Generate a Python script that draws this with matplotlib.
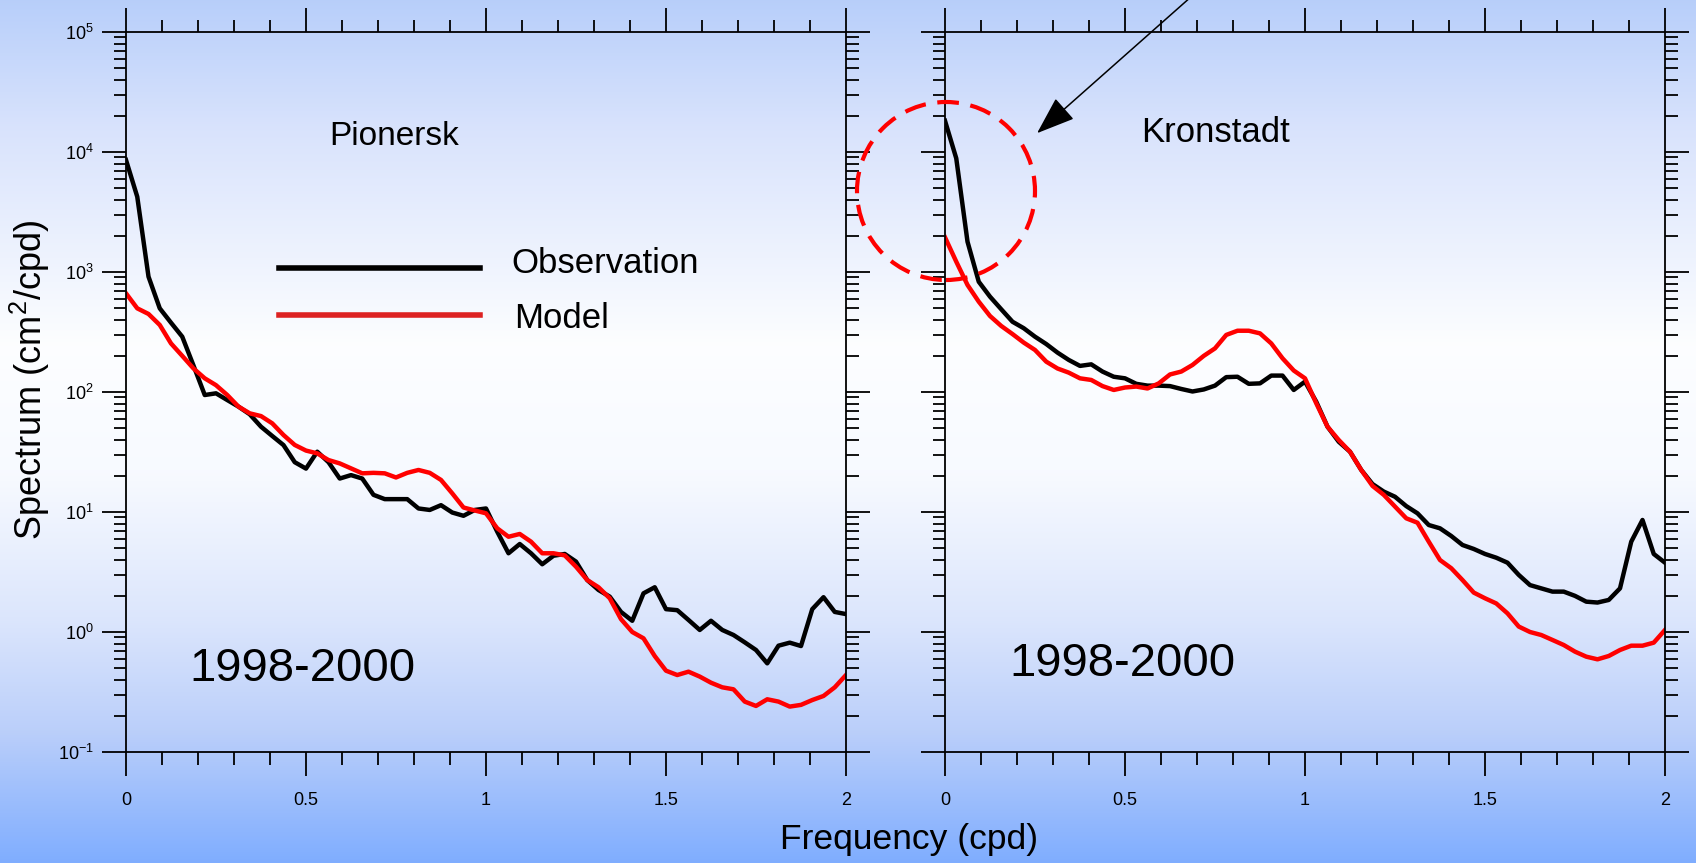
import numpy as np
import matplotlib
matplotlib.use("Agg")
import matplotlib.pyplot as plt
from matplotlib.ticker import LogLocator, MultipleLocator, FuncFormatter, NullFormatter
from matplotlib.patches import Ellipse

plt.rcParams['font.family'] = ['Liberation Sans', 'DejaVu Sans']
plt.rcParams['mathtext.default'] = 'regular'
plt.rcParams['axes.unicode_minus'] = False

# frequency grid (cpd), 1/32 cpd resolution
freq = np.linspace(0, 2, 65)

# Pionersk spectra (cm^2/cpd)
pion_obs = [8580, 4240, 915, 498, 378, 289, 166, 94.4, 97.5, 85.7,
            75.5, 65.2, 51.4, 43, 36.1, 26, 23, 31.8, 26, 19,
            20.3, 19, 13.9, 12.8, 12.8, 12.8, 10.7, 10.4, 11.4, 9.9,
            9.3, 10.4, 10.7, 6.85, 4.53, 5.41, 4.53, 3.67, 4.32, 4.47,
            3.86, 2.71, 2.24, 1.97, 1.47, 1.24, 2.1, 2.36, 1.55, 1.52,
            1.26, 1.04, 1.24, 1.04, 0.944, 0.82, 0.708, 0.548, 0.769, 0.815,
            0.764, 1.55, 1.95, 1.47, 1.41]
pion_mod = [664, 498, 447, 362, 254, 200, 157, 130, 114, 94.4,
            75.5, 66.4, 63, 54.8, 43.8, 36.2, 32.5, 30.8, 27.1, 25.4,
            23.1, 21, 21.2, 21, 19.4, 21.2, 22.4, 21.2, 18.5, 14.3,
            10.9, 10.3, 9.75, 7.31, 6.22, 6.56, 5.66, 4.53, 4.53, 4.35,
            3.5, 2.71, 2.36, 1.91, 1.28, 1.0, 0.886, 0.63, 0.476, 0.438,
            0.467, 0.425, 0.378, 0.346, 0.333, 0.263, 0.242, 0.275, 0.263, 0.239,
            0.247, 0.271, 0.293, 0.346, 0.438]

# Kronstadt spectra (cm^2/cpd)
kron_obs = [18200, 8860, 1790, 830, 623, 489, 385, 340, 289, 251,
            213, 185, 165, 170, 148, 134, 130, 117, 113, 113,
            112, 106, 101, 105, 113, 133, 134, 117, 118, 137,
            137, 104, 122, 83, 51.4, 38.5, 31.8, 22.4, 17.1, 14.8,
            13.4, 11.2, 9.75, 7.79, 7.31, 6.31, 5.31, 4.92, 4.47, 4.16,
            3.78, 2.99, 2.46, 2.31, 2.17, 2.17, 2.0, 1.79, 1.76, 1.85,
            2.31, 5.66, 8.58, 4.47, 3.78]
kron_mod = [1945, 1220, 780, 566, 430, 355, 304, 258, 224, 179,
            157, 145, 130, 126, 112, 104, 109, 111, 107, 118,
            140, 148, 168, 200, 231, 299, 324, 324, 308, 254,
            191, 151, 130, 80.5, 51.4, 39.8, 31.8, 22.4, 16.5, 13.9,
            11.1, 8.86, 8.14, 5.66, 3.98, 3.4, 2.71, 2.13, 1.91, 1.73,
            1.43, 1.11, 1.0, 0.944, 0.858, 0.779, 0.686, 0.623, 0.592, 0.631,
            0.708, 0.769, 0.769, 0.815, 1.04]

W, H = 1696, 863
fig = plt.figure(figsize=(W / 100, H / 100), dpi=100)

# background: vertical blue-white-blue gradient
bg = fig.add_axes([0, 0, 1, 1], zorder=-10)
stops = [0.0, 0.15, 0.40, 0.55, 0.72, 0.85, 1.0]
cols = np.array([(0.72, 0.81, 0.98), (0.85, 0.89, 0.99), (0.99, 0.995, 1.0),
                 (0.97, 0.98, 1.0), (0.86, 0.90, 0.99), (0.73, 0.81, 0.98),
                 (0.50, 0.68, 1.0)])
yy = np.linspace(0, 1, 400)
grad = np.stack([np.interp(yy, stops, cols[:, c]) for c in range(3)], axis=1)
bg.imshow(grad[:, None, :], aspect='auto', extent=[0, 1, 0, 1])
bg.axis('off')


def px(x, y):
    # pixel (from top-left) -> figure fraction
    return x / W, 1 - y / H


def style_axes(ax, left_labels):
    ax.set_facecolor('none')
    ax.set_yscale('log')
    ax.set_xlim(0, 2)
    ax.set_ylim(0.1, 1e5)
    ax.xaxis.set_major_locator(MultipleLocator(0.5))
    ax.xaxis.set_minor_locator(MultipleLocator(0.1))
    ax.xaxis.set_major_formatter(FuncFormatter(lambda v, p: '%g' % v))
    ax.yaxis.set_major_locator(LogLocator(base=10, numticks=10))
    ax.yaxis.set_minor_locator(LogLocator(base=10, subs=np.arange(2, 10), numticks=20))
    ax.yaxis.set_major_formatter(FuncFormatter(lambda v, p: '$10^{%d}$' % round(np.log10(v))))
    ax.yaxis.set_minor_formatter(NullFormatter())
    ax.tick_params(which='both', direction='out', top=True, right=True,
                   labeltop=False, labelright=False, labelleft=left_labels, width=1.3)
    ax.tick_params(which='major', length=17)
    ax.tick_params(which='minor', length=9)
    ax.tick_params(axis='x', which='major', pad=12, labelsize=13)
    ax.tick_params(axis='y', which='major', pad=6, labelsize=13)
    for s in ax.spines.values():
        s.set_linewidth(1.3)


ax1 = fig.add_axes([126 / W, 1 - 752 / H, 720 / W, 720 / H])
ax2 = fig.add_axes([945 / W, 1 - 752 / H, 720 / W, 720 / H])
style_axes(ax1, True)
style_axes(ax2, False)

ax1.plot(freq, pion_obs, color='black', lw=3.2)
ax1.plot(freq, pion_mod, color='#ff0000', lw=3.2)
ax2.plot(freq, kron_obs, color='black', lw=3.2)
ax2.plot(freq, kron_mod, color='#ff0000', lw=3.2)

# station names and period
fig.text(*px(394, 145), 'Pionersk', fontsize=24, ha='center', va='baseline')
fig.text(*px(1215, 142), 'Kronstadt', fontsize=25, ha='center', va='baseline')
fig.text(*px(302, 681), '1998-2000', fontsize=34, ha='center', va='baseline')
fig.text(*px(1122, 676), '1998-2000', fontsize=34, ha='center', va='baseline')

# hand-drawn style legend
fig.add_artist(plt.Line2D([279 / W, 480 / W], [1 - 268 / H, 1 - 268 / H], color='black', lw=4))
fig.add_artist(plt.Line2D([279 / W, 480 / W], [1 - 315 / H, 1 - 315 / H], color='#dd2222', lw=4))
fig.text(*px(511, 273), 'Observation', fontsize=25, ha='left', va='baseline')
fig.text(*px(514, 328), 'Model', fontsize=25, ha='left', va='baseline')

# axis labels
fig.text(*px(30, 380), 'Spectrum (cm$^2$/cpd)', fontsize=26, rotation=90, ha='center', va='center')
fig.text(*px(909, 839), 'Frequency (cpd)', fontsize=25.5, ha='center', va='center')

# dashed circle + arrow highlighting the low-frequency peak
fig.add_artist(Ellipse(px(946, 191), 178 / W, 178 / H, transform=fig.transFigure,
                       fill=False, ec='red', lw=3, ls=(0, (5.2, 2.8))))
ax2.annotate('', xy=(1035, H - 135), xycoords='figure pixels',
             xytext=(1192, H + 4), textcoords='figure pixels',
             arrowprops=dict(arrowstyle='-|>,head_length=1.1,head_width=0.4',
                             color='black', lw=1.1, mutation_scale=22),
             annotation_clip=False)

fig.savefig('out.png', dpi=100)
